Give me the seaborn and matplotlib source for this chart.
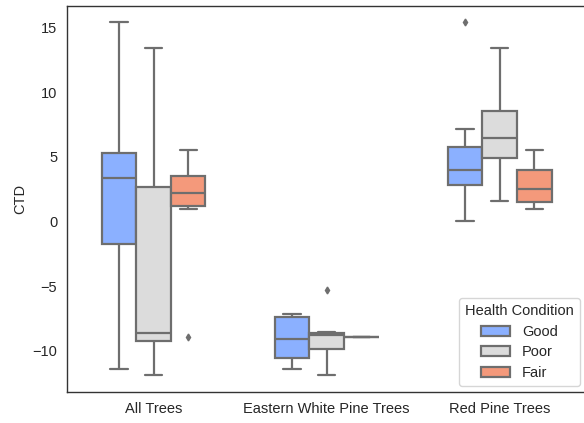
import numpy as np
import pandas as pd
import seaborn as sns
import matplotlib
matplotlib.use("Agg")
import matplotlib.pyplot as plt

categories = ["All Trees", "Eastern White Pine Trees", "Red Pine Trees"]
conditions = ["Good", "Poor", "Fair"]

all_good = [-11.43, -1.78, 3.34, 5.28, 15.39]
all_poor = [-11.88, -9.22, -8.60, 2.67, 13.37]
all_fair = [-8.91, 0.94, 1.20, 1.20, 2.18, 2.18, 3.53, 3.53, 5.49]
ewp_good = [-11.43, -10.56, -9.06, -7.36, -7.17]
ewp_poor = [-11.84, -9.90, -9.90, -8.75, -8.75, -8.60, -8.60, -8.52, -5.29]
ewp_fair = [-8.93]
rp_good = [0.05, 2.80, 2.80, 3.96, 3.96, 5.72, 5.72, 7.12, 15.39]
rp_poor = [1.61, 4.87, 6.47, 8.53, 13.37]
rp_fair = [0.94, 1.53, 2.54, 3.96, 5.49]

groups = {
    ("All Trees", "Good"): all_good,
    ("All Trees", "Poor"): all_poor,
    ("All Trees", "Fair"): all_fair,
    ("Eastern White Pine Trees", "Good"): ewp_good,
    ("Eastern White Pine Trees", "Poor"): ewp_poor,
    ("Eastern White Pine Trees", "Fair"): ewp_fair,
    ("Red Pine Trees", "Good"): rp_good,
    ("Red Pine Trees", "Poor"): rp_poor,
    ("Red Pine Trees", "Fair"): rp_fair,
}

rows = []
for (cat, cond), vals in groups.items():
    for v in vals:
        rows.append({"Group": cat, "Health Condition": cond, "CTD": v})
df = pd.DataFrame(rows)

palette = {"Good": "#8bb0ff", "Poor": "#dcdcdc", "Fair": "#f4997b"}
line_gray = "#6e6e6e"

sns.set_style("white")
plt.rcParams["font.family"] = ["Liberation Sans", "DejaVu Sans"]

fig = plt.figure(figsize=(5.84, 4.23), dpi=100)
W, H = 584, 423
left, right, top, bottom = 67.0, 586.3, 6.0, 392.0
ax = fig.add_axes([left / W, 1 - bottom / H, (right - left) / W, (bottom - top) / H])

sns.boxplot(
    data=df, x="Group", y="CTD", hue="Health Condition",
    order=categories, hue_order=conditions, palette=palette,
    saturation=1, width=0.6, linewidth=1.6, linecolor=line_gray,
    flierprops=dict(marker="d", markersize=3.5, markerfacecolor=line_gray,
                    markeredgecolor=line_gray),
    ax=ax,
)

fs = 10.5
ax.set_xlim(-0.5, 2.5)
ax.set_ylim(-13.19, 16.65)
ax.set_yticks([-10, -5, 0, 5, 10, 15])
ax.set_xlabel("")
ax.set_ylabel("CTD", fontsize=fs)
ax.tick_params(axis="both", labelsize=fs)
for s in ax.spines.values():
    s.set_color("#333333")
    s.set_linewidth(1.0)

ax_w = right - left
ax_h = bottom - top
sns.move_legend(ax, "lower right", title="Health Condition", fontsize=fs,
                title_fontsize=fs, frameon=True, borderaxespad=0,
                labelspacing=0.45,
                bbox_to_anchor=((579.5 - left) / ax_w, (bottom - 385.7) / ax_h))

fig.savefig("out.png", dpi=100)
